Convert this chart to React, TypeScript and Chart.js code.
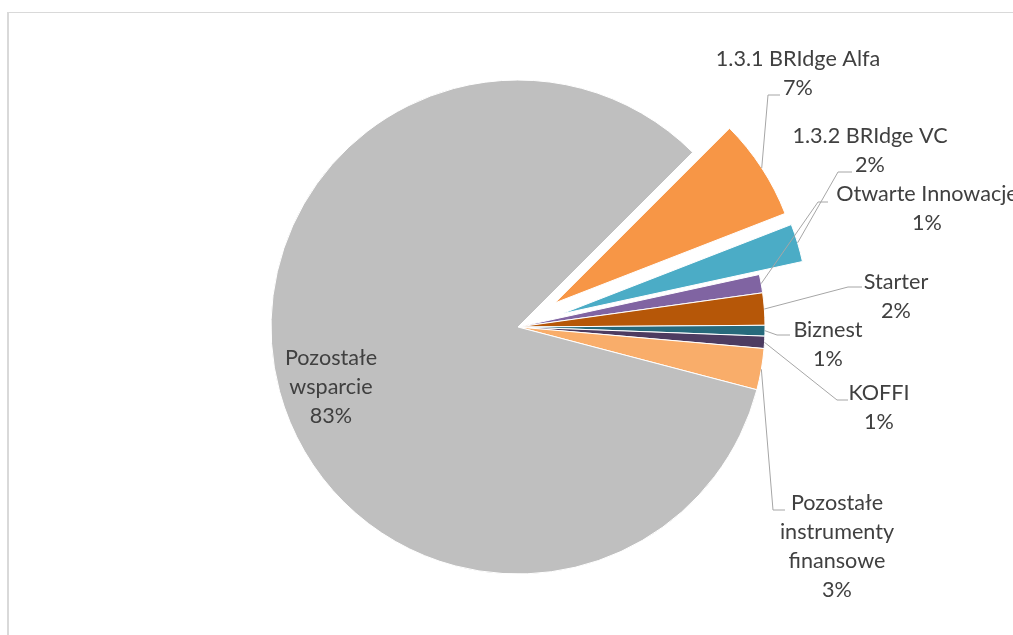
import React, { useEffect, useRef } from 'react';
import { Chart, registerables } from 'chart.js';

Chart.register(...registerables);

// ---- data ----
const categories = [
  '1.3.1 BRIdge Alfa',
  '1.3.2 BRIdge VC',
  'Otwarte Innowacje',
  'Starter',
  'Biznest',
  'KOFFI',
  'Pozostałe instrumenty finansowe',
  'Pozostałe wsparcie',
];
const labelLines = [
  ['1.3.1 BRIdge Alfa'],
  ['1.3.2 BRIdge VC'],
  ['Otwarte Innowacje'],
  ['Starter'],
  ['Biznest'],
  ['KOFFI'],
  ['Pozostałe', 'instrumenty', 'finansowe'],
  ['Pozostałe', 'wsparcie'],
];
const shares = [6.6, 2.49, 1.2, 2.1, 0.7, 0.8, 2.7, 83.41];

// ---- styles ----
const colors = ['#F79646', '#4BACC6', '#8064A2', '#B65708', '#276A7C', '#4D3C61', '#F9AD6A', '#BFBFBF'];
// explosion distance in px
const explode = [44, 45, 0, 0, 0, 0, 0, 0];
const labelLayout: { x: number; y: number; bend: number[] | null; end: number }[] = [
  { x: 798, y: 73.5, bend: [768, 95], end: 780 },
  { x: 870, y: 151, bend: [838, 172], end: 852 },
  { x: 927, y: 209, bend: [818, 202], end: 828 },
  { x: 896, y: 296.5, bend: [848, 287], end: 862 },
  { x: 828, y: 344.5, bend: [777, 335], end: 790 },
  { x: 879, y: 408, bend: [837, 400], end: 848 },
  { x: 837, y: 547, bend: [773, 510], end: 785 },
  { x: 331, y: 387, bend: null, end: 0 },
];
const FONT = '21.6px Lato';
const LINE_H = 29;

// Explode slices by translating the arc along its bisector (no radius/angle distortion)
const explodePlugin = {
  id: 'explodeSlices',
  afterDatasetUpdate(chart: any, args: any) {
    const meta = chart.getDatasetMeta(args.index);
    meta.data.forEach((arc: any, i: number) => {
      const d = explode[i] || 0;
      if (!d) return;
      const baseDraw = Object.getPrototypeOf(arc).draw;
      arc.draw = function (ctx: CanvasRenderingContext2D, area: any) {
        const mid = (this.startAngle + this.endAngle) / 2;
        ctx.save();
        ctx.translate(Math.cos(mid) * d, Math.sin(mid) * d);
        baseDraw.call(this, ctx, area);
        ctx.restore();
      };
    });
  },
};

const labelsPlugin = {
  id: 'sliceLabels',
  afterDatasetsDraw(chart: any) {
    const ctx = chart.ctx as CanvasRenderingContext2D;
    const meta = chart.getDatasetMeta(0);
    const total = shares.reduce((a, b) => a + b, 0);
    ctx.save();
    meta.data.forEach((arc: any, i: number) => {
      const L = labelLayout[i];
      if (L.bend) {
        const mid = (arc.startAngle + arc.endAngle) / 2;
        const off = explode[i] || 0;
        const R = arc.outerRadius + off;
        const sx = arc.x + Math.cos(mid) * R;
        const sy = arc.y + Math.sin(mid) * R;
        ctx.beginPath();
        ctx.moveTo(sx, sy);
        ctx.lineTo(L.bend[0], L.bend[1]);
        ctx.lineTo(L.end, L.bend[1]);
        ctx.strokeStyle = '#A6A6A6';
        ctx.lineWidth = 1;
        ctx.stroke();
      }
      const lines = [...labelLines[i], Math.round((shares[i] / total) * 100) + '%'];
      ctx.font = FONT;
      ctx.fillStyle = '#404040';
      ctx.textAlign = 'center';
      ctx.textBaseline = 'middle';
      const y0 = L.y - ((lines.length - 1) * LINE_H) / 2;
      lines.forEach((t, k) => ctx.fillText(t, L.x, y0 + k * LINE_H));
    });
    ctx.restore();
  },
};

export default function App() {
  const ref = useRef<HTMLCanvasElement | null>(null);
  useEffect(() => {
    if (!ref.current) return;
    const chart = new Chart(ref.current, {
      type: 'pie',
      data: {
        labels: categories,
        datasets: [
          {
            data: shares,
            backgroundColor: colors,
            borderColor: '#FFFFFF',
            borderWidth: 1,
          } as any,
        ],
      },
      options: {
        responsive: false,
        animation: false,
        events: [],
        radius: 247,
        rotation: 45,
        layout: { padding: { left: 23, right: 0, top: 19, bottom: 0 } },
        plugins: { legend: { display: false }, tooltip: { enabled: false }, title: { display: false } },
      } as any,
      plugins: [explodePlugin, labelsPlugin],
    });
    return () => chart.destroy();
  }, []);
  return (
    <div style={{ position: 'fixed', left: 0, top: 0, width: 1013, height: 635, overflow: 'hidden', background: '#fff' }}>
      <div
        style={{
          position: 'absolute',
          left: 7,
          top: 12,
          width: 1020,
          height: 640,
          borderTop: '1px solid #D9D9D9',
          borderLeft: '2px solid #D9D9D9',
        }}
      />
      <canvas ref={ref} width={1013} height={635} style={{ position: 'absolute', left: 0, top: 0 }} />
    </div>
  );
}
